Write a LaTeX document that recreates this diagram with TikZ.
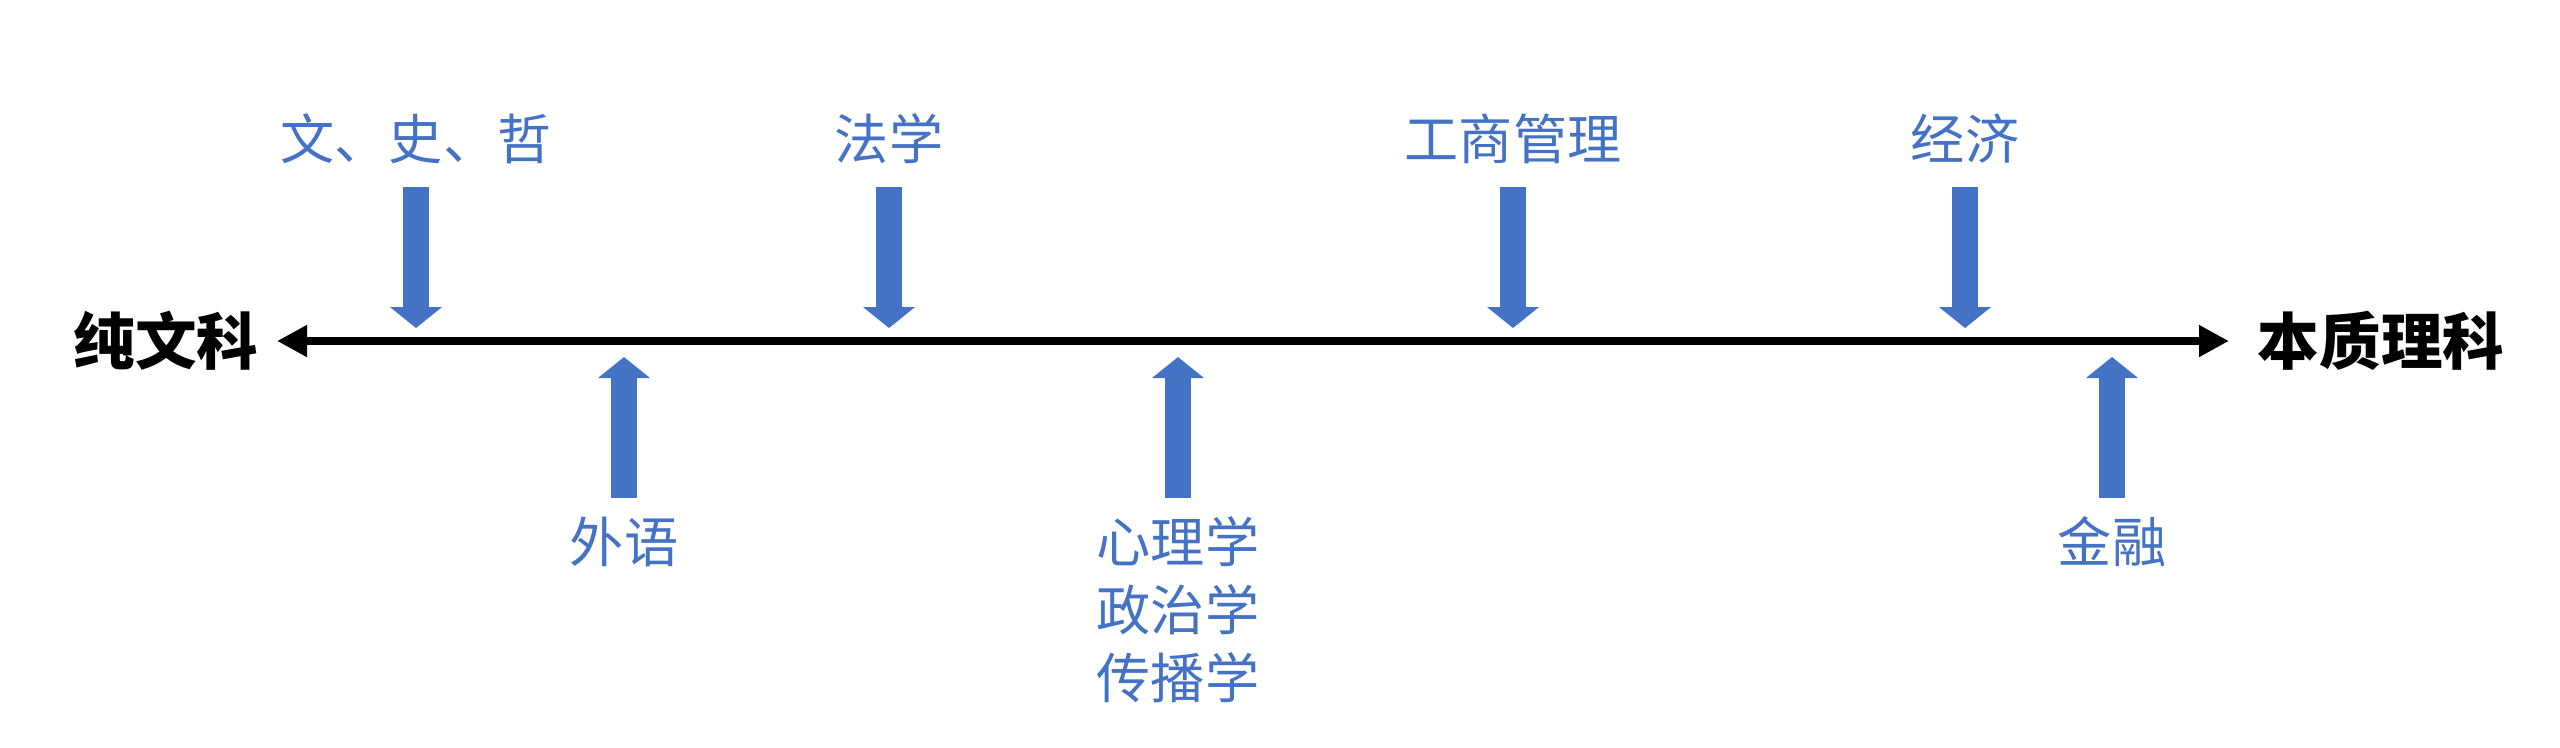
\documentclass[tikz,border=0pt]{standalone}
\usepackage{fontspec}
\usepackage{xcolor}
\usepackage{tikz}
\usetikzlibrary{arrows.meta,calc}
\setmainfont{Noto Sans CJK SC}
\definecolor{officeblue}{HTML}{4472C4}

\begin{document}
\begin{tikzpicture}[x=0.01cm, y=-0.01cm,
        subject/.style={text=officeblue, inner sep=0pt, align=center, font=\fontsize{15.4}{19.3}\selectfont},
        pole/.style={inner sep=0pt, font=\fontsize{17.5}{21}\selectfont\bfseries},
        push/.style={draw=officeblue, line width=0.26cm, -{Triangle[length=0.21cm, width=0.51cm]}},
        axis/.style={line width=0.08cm, {Triangle[length=0.3cm, width=0.3cm]}-{Triangle[length=0.3cm, width=0.3cm]}}]
    \useasboundingbox (0,0) rectangle (2560,747);
    \node[pole] (wen) at (166,341) {纯文科};
    \node[pole] (li) at (2381,341) {本质理科};
    \coordinate (axisL) at (277,341);
    \coordinate (axisR) at (2229,341);
    \draw[axis] (axisL) -- (axisR);
    % above the axis
    \foreach \x/\n/\lbl in {416/wsz/文、史、哲, 889/fx/法学, 1513/gsgl/工商管理, 1965/jj/经济} {
        \node[subject] (\n) at (\x,139) {\lbl};
        \coordinate (\n-tip) at (\x,328);
        \draw[push] ($(\n)+(0,48)$) -- (\n-tip);
    }
    % below the axis
    \foreach \x/\n/\lbl in {624/wy/外语, 1178/xzc/{心理学\\政治学\\传播学}, 2112/jr/金融} {
        \node[subject, anchor=north] (\n) at (\x,516) {\lbl};
        \coordinate (\n-tip) at (\x,357);
        \draw[push] ($(\n.north)+(0,-18)$) -- (\n-tip);
    }
\end{tikzpicture}
\end{document}
